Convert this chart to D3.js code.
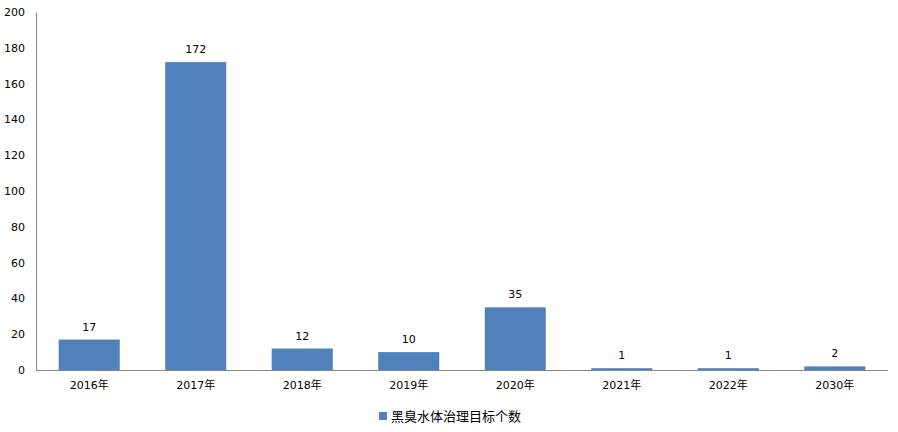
<!DOCTYPE html>
<html><head><meta charset="utf-8">
<script src="https://cdn.jsdelivr.net/npm/d3@7"></script>
<style>body{margin:0;background:#fff}svg{display:block}text{font-family:"DejaVu Sans","Noto Sans CJK SC",sans-serif;fill:#000}</style>
</head><body>
<script>
const categories = ["2016年","2017年","2018年","2019年","2020年","2021年","2022年","2030年"];
const values = [17,172,12,10,35,1,1,2];
const yTicks = [0,20,40,60,80,100,120,140,160,180,200];
const seriesName = "黑臭水体治理目标个数";

(function(){
const W=898,H=432, mL=36,mR=888,mT=12,mB=370;
const svg=d3.select("body").append("svg").attr("width",W).attr("height",H);
const x=d3.scaleBand().domain(categories).range([mL,mR]).paddingInner(0.427).paddingOuter(0.213);
const y=d3.scaleLinear().domain([0,200]).range([mB,mT]);

svg.append("g").selectAll("rect").data(values).join("rect")
 .attr("x",(d,i)=>x(categories[i])).attr("width",x.bandwidth())
 .attr("y",d=>y(d)).attr("height",d=>Math.max(y(0)-y(d),0)).attr("fill","#4f81bd");

svg.append("g").selectAll("text").data(values).join("text")
 .attr("x",(d,i)=>x(categories[i])+x.bandwidth()/2).attr("y",d=>y(d)-9)
 .attr("text-anchor","middle").attr("font-size",11).text(d=>d);

const ya=svg.append("g").attr("transform",`translate(${mL},0)`).call(d3.axisLeft(y).tickValues(yTicks).tickSize(0).tickPadding(11));
ya.select(".domain").attr("stroke","#868686");
ya.selectAll("text").attr("font-size",11).style("font-family",'"DejaVu Sans",sans-serif').attr("fill","#000");

const xa=svg.append("g").attr("transform",`translate(0,${mB})`).call(d3.axisBottom(x).tickSize(0).tickPadding(11));
xa.select(".domain").attr("stroke","#868686").attr("d",`M${mL},0.5H${mR}`);
xa.selectAll("text").attr("font-size",11).style("font-family",'"DejaVu Sans","Noto Sans CJK SC",sans-serif').attr("fill","#000");

const lg=svg.append("g");
lg.append("rect").attr("x",379).attr("y",412).attr("width",8).attr("height",8).attr("fill","#4f81bd");
lg.append("text").attr("x",391).attr("y",421).attr("font-size",13).style("font-family",'"Noto Sans CJK SC",sans-serif').text(seriesName);
})();
</script>
</body></html>
